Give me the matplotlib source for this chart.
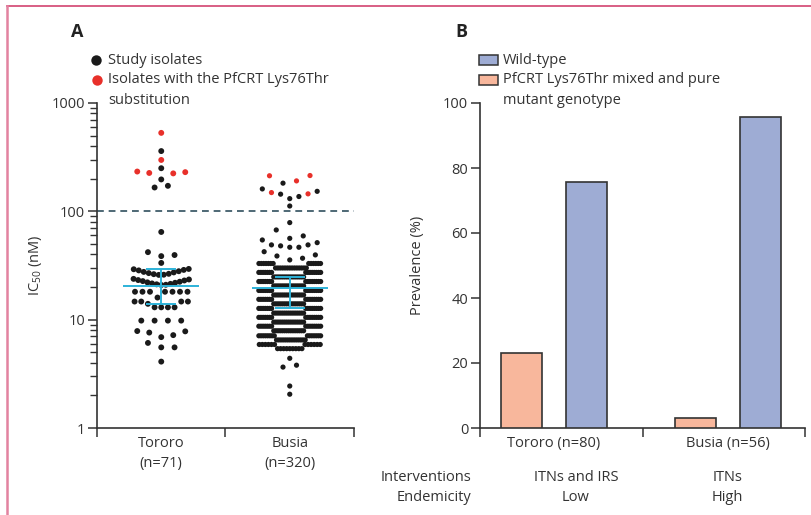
import numpy as np
import matplotlib
matplotlib.use('Agg')
import matplotlib.pyplot as plt
from matplotlib.lines import Line2D
from matplotlib.patches import Rectangle
from matplotlib.ticker import LogLocator, NullFormatter

plt.rcParams['font.family'] = ['Open Sans', 'DejaVu Sans']
plt.rcParams['mathtext.fontset'] = 'custom'
plt.rcParams['mathtext.rm'] = 'Open Sans'
plt.rcParams['font.size'] = 10.5
TXT = '#333333'

# ---- panel A: IC50 values (nM) ----
tororo_rows = [
    [4.1],
    [5.55, 5.55, 6.1],
    [6.9, 7.2, 7.6, 7.8, 7.85],
    [9.8, 9.8, 9.8, 9.8],
    [13.0, 13.0, 13.0, 13.0, 14.0, 14.7, 14.7, 14.7, 14.7],
    [16.0, 18.1, 18.1, 18.1, 18.1, 18.1, 18.1, 18.1],
    [20.9, 21.0, 21.2, 21.4, 21.6, 21.9, 22.1, 22.4, 22.7, 23.0, 23.2, 23.5, 23.8],
    [25.9, 26.0, 26.3, 26.5, 26.9, 27.3, 27.6, 28.0, 28.5, 28.8, 29.2, 29.4],
    [33.4],
    [38.6, 39.5, 42],
    [64.5],
    [166, 172],
    [197, 224, 226, 230, 233],
    [250], [298], [360], [530],
]
tororo_mutant = [224, 226, 230, 233, 298, 530]

busia_rows_low = [[2.05], [2.44], [3.65, 3.8], [4.4]]
# dense part of the Busia column: value of each line of dots and its dot count
busia_line_values = [5.4, 5.9, 6.5, 7.1, 7.9, 8.7, 9.5, 10.5, 11.5, 12.7,
                     14.0, 15.4, 16.9, 18.6, 20.5, 22.5, 24.8, 27.3, 30.0, 33.0]
busia_line_counts = [9, 12, 14, 15, 15, 15, 15, 15, 15, 15,
                     15, 15, 15, 15, 15, 15, 15, 15, 14, 13]
busia_rows_high = [
    [35.6, 36.9, 38.7, 39.6, 42.4],
    [46.6, 46.6, 48, 49, 49, 51.4, 54.4],
    [56.3, 59.3, 67.3],
    [78.7],
    [112],
    [131, 137, 144, 145, 149, 153, 161],
    [182, 191, 213, 214],
]
busia_mutant = [145, 149, 191, 213, 214]

site_labels_a = ['Tororo\n(n=71)', 'Busia\n(n=320)']
medians = [20.6, 19.6]
q_low = [13.9, 12.7]
q_high = [29.4, 24.6]
cutoff = 100

# ---- panel B: prevalence (%) ----
site_labels_b = ['Tororo (n=80)', 'Busia (n=56)']
mutant_pct = [23.2, 3.0]
wild_pct = [75.6, 95.8]
interventions = ['ITNs and IRS', 'ITNs']
endemicity = ['Low', 'High']

# two neighbouring lines of the dense Busia column share one row of the plot
busia_rows = list(busia_rows_low)
for k in range(0, len(busia_line_values), 2):
    busia_rows.append([busia_line_values[k]] * busia_line_counts[k]
                      + [busia_line_values[k + 1]] * busia_line_counts[k + 1])
busia_rows += busia_rows_high


def row_layout(rows, width, sp_max):
    # dot-plot layout: each row spread around the centre, lowest values in the middle
    offs, vals = [], []
    for row in rows:
        v = np.sort(np.asarray(row, dtype=float))
        n = len(v)
        sp = min(sp_max, width / n)
        slots = list((np.arange(n) - (n - 1) / 2) * sp)
        if n % 2:
            slots.sort(key=lambda p: (round(abs(p), 6), -p))
        else:
            slots.sort(key=lambda p: (round(abs(p), 6), p))
        offs += slots
        vals += list(v)
    return np.array(offs), np.array(vals)


fig = plt.figure(figsize=(8.12, 5.15), dpi=100)
W, H = 812, 515

# ---------------- panel A ----------------
ax = fig.add_axes([97 / W, 1 - 428 / H, 257 / W, 325 / H])
ax.set_xlim(0, 2)
ax.set_yscale('log')
ax.set_ylim(1, 1000)
px_per_unit = ax.transData.transform((1, 1))[0] - ax.transData.transform((0, 1))[0]

for xc, rows, mutant, width, sp_max, s in [(0.5, tororo_rows, tororo_mutant, 60, 13.3, 18),
                                          (1.5, busia_rows, busia_mutant, 64, 13.5, 14)]:
    offs, vals = row_layout(rows, width, sp_max)
    cols = ['#e8302a' if v in mutant else '#1a1a1a' for v in vals]
    ax.scatter(xc + offs / px_per_unit, vals, s=s, c=cols, linewidths=0, zorder=3)

ax.axhline(cutoff, color='#4e6875', ls=(0, (3.5, 2.5)), lw=1.4, zorder=2)

cyan = '#2db2d8'
for xc, m, lo, hi in zip([0.5, 1.5], medians, q_low, q_high):
    ax.hlines(m, xc - 0.296, xc + 0.296, color=cyan, lw=1.4, zorder=4)
    ax.hlines([lo, hi], xc - 0.117, xc + 0.117, color=cyan, lw=1.4, zorder=4)
    ax.vlines(xc, lo, hi, color=cyan, lw=1.4, zorder=4)

ax.set_yticks([1, 10, 100, 1000], labels=['1', '10', '100', '1000'])
ax.yaxis.set_minor_locator(LogLocator(base=10, subs=range(2, 10)))
ax.yaxis.set_minor_formatter(NullFormatter())
ax.set_xticks([0, 1, 2], labels=['', '', ''])
ax.set_xticks([0.5, 1.5], labels=site_labels_a, minor=True)
ax.tick_params(axis='y', which='major', length=6.5, width=1.1, color='#333', labelcolor=TXT, pad=2)
ax.tick_params(axis='y', which='minor', length=5, width=1.0, color='#333')
ax.tick_params(axis='x', which='major', length=6.5, width=1.1, color='#333')
ax.tick_params(axis='x', which='minor', length=0, pad=6, labelcolor=TXT)
for lab in ax.get_xticklabels(minor=True):
    lab.set_linespacing(1.4)
for sp in ['top', 'right']:
    ax.spines[sp].set_visible(False)
for sp in ['left', 'bottom']:
    ax.spines[sp].set_color('#333')
    ax.spines[sp].set_linewidth(1.2)
ax.set_ylabel(r'IC$_{\mathregular{50}}$ (nM)', color=TXT)
ax.yaxis.set_label_coords(-0.205, 0.5)

# ---------------- panel B ----------------
ax2 = fig.add_axes([480 / W, 1 - 428 / H, 325 / W, 325 / H])
pos = np.array([0.455, 1.525])
ax2.bar(pos - 0.2, mutant_pct, width=0.252, color='#f8b79c', edgecolor='#333', lw=1.2, zorder=3)
ax2.bar(pos + 0.2, wild_pct, width=0.252, color='#9eacd4', edgecolor='#333', lw=1.2, zorder=3)
ax2.set_xlim(0, 2)
ax2.set_ylim(0, 100)
ax2.set_yticks(range(0, 101, 20))
ax2.set_xticks([0, 1, 2], labels=['', '', ''])
ax2.set_xticks(pos, labels=site_labels_b, minor=True)
ax2.tick_params(axis='y', which='major', length=6.5, width=1.1, color='#333', labelcolor=TXT, pad=2)
ax2.tick_params(axis='x', which='major', length=6.5, width=1.1, color='#333')
ax2.tick_params(axis='x', which='minor', length=0, pad=6, labelcolor=TXT)
for sp in ['top', 'right']:
    ax2.spines[sp].set_visible(False)
for sp in ['left', 'bottom']:
    ax2.spines[sp].set_color('#333')
    ax2.spines[sp].set_linewidth(1.2)
ax2.set_ylabel('Prevalence (%)', color=TXT)
ax2.yaxis.set_label_coords(-0.17, 0.5)

tr = ax2.get_xaxis_transform()
ax2.text(-0.025, -0.152, 'Interventions', transform=ax2.transAxes, ha='right', va='center', color=TXT)
ax2.text(-0.025, -0.215, 'Endemicity', transform=ax2.transAxes, ha='right', va='center', color=TXT)
for xc, iv, en in zip([0.59, 1.525], interventions, endemicity):
    ax2.text(xc, -0.152, iv, transform=tr, ha='center', va='center', color=TXT)
    ax2.text(xc, -0.215, en, transform=tr, ha='center', va='center', color=TXT)

# ---------------- panel letters and legends ----------------
fig.text(77 / W, 1 - 32 / H, 'A', ha='center', va='center', weight='bold', size=13, color='#222')
fig.text(461 / W, 1 - 32 / H, 'B', ha='center', va='center', weight='bold', size=13, color='#222')

fig.add_artist(Line2D([96 / W], [1 - 60 / H], marker='o', ms=7.5, color='#1a1a1a', mew=0, transform=fig.transFigure))
fig.add_artist(Line2D([97 / W], [1 - 80 / H], marker='o', ms=7.5, color='#e8302a', mew=0, transform=fig.transFigure))
fig.text(108 / W, 1 - 60 / H, 'Study isolates', va='center', color=TXT)
fig.text(108 / W, 1 - 80 / H, 'Isolates with the PfCRT Lys76Thr', va='center', color=TXT)
fig.text(108 / W, 1 - 101 / H, 'substitution', va='center', color=TXT)

fig.add_artist(Rectangle((479 / W, 1 - 65 / H), 19 / W, 10 / H, facecolor='#9eacd4', edgecolor='#333',
                         lw=1.1, transform=fig.transFigure))
fig.add_artist(Rectangle((479 / W, 1 - 85 / H), 19 / W, 10 / H, facecolor='#f8b79c', edgecolor='#333',
                         lw=1.1, transform=fig.transFigure))
fig.text(503 / W, 1 - 60 / H, 'Wild-type', va='center', color=TXT)
fig.text(503 / W, 1 - 80 / H, 'PfCRT Lys76Thr mixed and pure', va='center', color=TXT)
fig.text(503 / W, 1 - 101 / H, 'mutant genotype', va='center', color=TXT)

# journal frame
fig.add_artist(Line2D([7 / W, 1], [1 - 6 / H, 1 - 6 / H], color='#d2436f', lw=1.2, transform=fig.transFigure))
fig.add_artist(Line2D([7 / W, 7 / W], [0, 1 - 6 / H], color='#e283a0', lw=1.8, transform=fig.transFigure))

fig.savefig('out.png', dpi=100)
